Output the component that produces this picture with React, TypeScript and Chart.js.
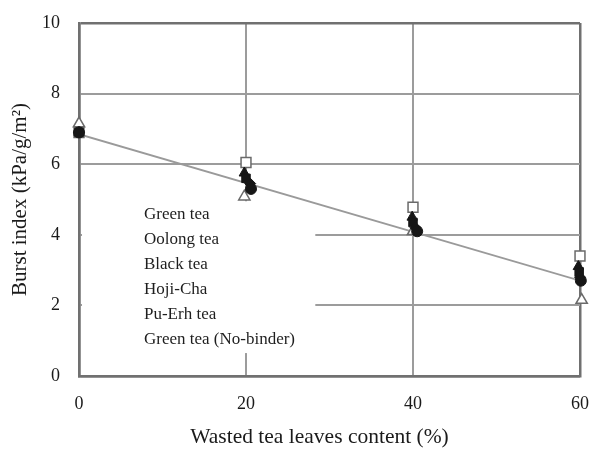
import React, { useEffect, useRef } from "react";
import { Chart, registerables } from "chart.js";

Chart.register(...registerables);

const SERIES_LABELS = [
  "Green tea",
  "Oolong tea",
  "Black tea",
  "Hoji-Cha",
  "Pu-Erh tea",
  "Green tea (No-binder)",
];

const GREEN_X = [0, 20, 40, 60];
const GREEN_Y = [6.9, 6.05, 4.78, 3.4];
const OOLONG_X = [0, 19.8, 39.9, 59.8];
const OOLONG_Y = [6.9, 5.75, 4.5, 3.1];
const BLACK_X = [0, 20, 40, 59.9];
const BLACK_Y = [6.9, 5.6, 4.35, 2.95];
const HOJI_X = [0, 20.5, 40.3, 60];
const HOJI_Y = [6.9, 5.45, 4.2, 2.8];
const PUERH_X = [0, 20.6, 40.5, 60.1];
const PUERH_Y = [6.9, 5.3, 4.1, 2.7];
const NOBINDER_X = [0, 19.8, 40, 60.2];
const NOBINDER_Y = [7.15, 5.08, 4.1, 2.15];

const TREND_X = [0, 60];
const TREND_Y = [6.85, 2.7];

const X_TICKS = [0, 20, 40, 60];
const Y_TICKS = [0, 2, 4, 6, 8, 10];

const X_TITLE = "Wasted tea leaves content (%)";
const Y_TITLE = "Burst index (kPa/g/m²)";

const FONT = "'Liberation Serif', 'Times New Roman', serif";

const toPts = (xs: number[], ys: number[]) => xs.map((x, i) => ({ x, y: ys[i] }));

const legendPlugin = {
  id: "textLegend",
  beforeDatasetsDraw(chart: any) {
    const { ctx, chartArea, scales } = chart;
    const x0 = chartArea.left + 3;
    const x1 = scales.x.getPixelForValue(28.3);
    const y0 = scales.y.getPixelForValue(4.95);
    const y1 = scales.y.getPixelForValue(0.65);
    ctx.save();
    ctx.fillStyle = "#ffffff";
    ctx.fillRect(x0, y0, x1 - x0, y1 - y0);
    ctx.fillStyle = "#1e1e1e";
    ctx.font = `17px ${FONT}`;
    ctx.textBaseline = "middle";
    ctx.textAlign = "left";
    const labels = chart.data.datasets
      .filter((d: any) => d.inLegend)
      .map((d: any) => d.label);
    const startY = y0 + 13;
    labels.forEach((l: string, i: number) => {
      ctx.fillText(l, chartArea.left + 65, startY + i * 25);
    });
    ctx.restore();
  },
  afterDraw(chart: any) {
    const { ctx, chartArea } = chart;
    ctx.save();
    ctx.fillStyle = "#1a1a1a";
    ctx.font = `21.5px ${FONT}`;
    ctx.textBaseline = "middle";
    ctx.textAlign = "center";
    ctx.fillText(X_TITLE, (chartArea.left + chartArea.right) / 2 - 10, 437);
    ctx.restore();
  },
};

export default function App() {
  const ref = useRef<HTMLCanvasElement | null>(null);
  useEffect(() => {
    if (!ref.current) return;
    const dark = "#161616";
    const open = { backgroundColor: "#ffffff", borderColor: "#6a6a6a", borderWidth: 1.5 };
    const filled = { backgroundColor: dark, borderColor: dark, borderWidth: 1 };
    const chart = new Chart(ref.current, {
      type: "scatter",
      data: {
        datasets: [
          { label: SERIES_LABELS[0], inLegend: true, data: toPts(GREEN_X, GREEN_Y), pointStyle: "rect", pointRadius: 7, order: 5, clip: false, ...open } as any,
          { label: SERIES_LABELS[1], inLegend: true, data: toPts(OOLONG_X, OOLONG_Y), pointStyle: "triangle", pointRadius: 6, order: 3, clip: false, ...filled } as any,
          { label: SERIES_LABELS[2], inLegend: true, data: toPts(BLACK_X, BLACK_Y), pointStyle: "rect", pointRadius: 6, order: 2, clip: false, ...filled } as any,
          { label: SERIES_LABELS[3], inLegend: true, data: toPts(HOJI_X, HOJI_Y), pointStyle: "rectRot", pointRadius: 5.5, order: 1, clip: false, ...filled } as any,
          { label: SERIES_LABELS[4], inLegend: true, data: toPts(PUERH_X, PUERH_Y), pointStyle: "circle", pointRadius: 5.5, order: 0, clip: false, ...filled } as any,
          { label: SERIES_LABELS[5], inLegend: true, data: toPts(NOBINDER_X, NOBINDER_Y), pointStyle: "triangle", pointRadius: 6.5, order: 4, clip: false, ...open } as any,
          {
            label: "trend",
            inLegend: false,
            data: toPts(TREND_X, TREND_Y),
            showLine: true,
            pointRadius: 0,
            borderColor: "#9a9a9a",
            borderWidth: 1.8,
            order: 10,
          } as any,
        ],
      },
      options: {
        animation: false,
        responsive: false,
        maintainAspectRatio: false,
        layout: { padding: { left: 0, right: 10, top: 23, bottom: 0 } },
        plugins: {
          legend: { display: false },
          tooltip: { enabled: false },
        },
        scales: {
          x: {
            type: "linear",
            min: 0,
            max: 60,
            afterBuildTicks: (s: any) => {
              s.ticks = X_TICKS.map((v) => ({ value: v }));
            },
            afterFit: (s: any) => {
              s.height = 80;
              s.paddingLeft = 0;
              s.paddingRight = 0;
            },
            grid: {
              drawTicks: false,
              color: (c: any) => (c.tick && (c.tick.value === 0 || c.tick.value === 60) ? "#707070" : "#9c9c9c"),
              lineWidth: (c: any) => (c.tick && (c.tick.value === 0 || c.tick.value === 60) ? 2.5 : 2),
            },
            border: { display: true, color: "#707070", width: 2.5 },
            ticks: {
              padding: 17,
              color: "#1a1a1a",
              font: { family: FONT, size: 18 },
            },
            title: { display: false },
          },
          y: {
            type: "linear",
            min: 0,
            max: 10,
            afterBuildTicks: (s: any) => {
              s.ticks = Y_TICKS.map((v) => ({ value: v }));
            },
            afterFit: (s: any) => {
              s.width = 79;
              s.paddingTop = 0;
              s.paddingBottom = 0;
            },
            grid: {
              drawTicks: false,
              color: (c: any) => (c.tick && (c.tick.value === 0 || c.tick.value === 10) ? "#707070" : "#9c9c9c"),
              lineWidth: (c: any) => (c.tick && (c.tick.value === 0 || c.tick.value === 10) ? 2.5 : 2),
            },
            border: { display: true, color: "#707070", width: 2.5 },
            ticks: {
              padding: 19,
              color: "#1a1a1a",
              font: { family: FONT, size: 18 },
            },
            title: {
              display: true,
              text: Y_TITLE,
              color: "#1a1a1a",
              font: { family: FONT, size: 21 },
              padding: { top: 8, bottom: 0 },
            },
          },
        },
      },
      plugins: [legendPlugin],
    } as any);
    return () => chart.destroy();
  }, []);
  return (
    <div style={{ position: "fixed", left: 0, top: 0, width: 590, height: 456, background: "#fff" }}>
      <canvas ref={ref} width={590} height={456} style={{ width: 590, height: 456 }} />
    </div>
  );
}
